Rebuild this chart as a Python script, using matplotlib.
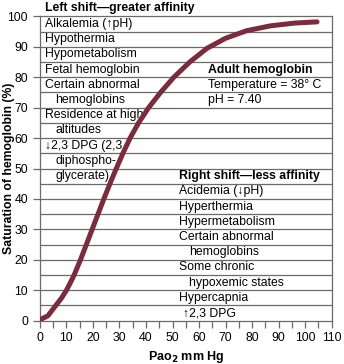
import matplotlib
matplotlib.use("Agg")
import matplotlib.pyplot as plt

plt.rcParams['font.family'] = ['Liberation Sans', 'DejaVu Sans']

#### curve ####
pao2 = [0, 3, 6.0, 8.2, 10.0, 11.5, 12.9, 15.3, 17.5, 19.7, 21.9, 24.1, 26.4, 28.8,
        31.3, 34.0, 37.2, 41.0, 45.5, 50.5, 56.5, 63.0, 70.0, 78.0, 87.0, 96.0, 104.5]
sat = [0.3, 1.6, 5, 7.5, 10, 12.5, 15, 20, 25, 30, 35, 40, 45, 50,
       55, 60, 65, 70, 75, 80, 85, 89.5, 92.8, 95.3, 96.9, 97.8, 98.2]

#### text rows ####
left_title = "Left shift\u2014greater affinity"
left_rows = ["Alkalemia (\u2191pH)", "Hypothermia", "Hypometabolism", "Fetal hemoglobin",
             "Certain abnormal", "  hemoglobins", "Residence at high", "  altitudes",
             "\u21932,3 DPG (2,3", "  diphospho-", "  glycerate)"]
right_title = "Right shift\u2014less affinity"
right_rows = ["Acidemia (\u2193pH)", "Hyperthermia", "Hypermetabolism", "Certain abnormal",
              "  hemoglobins", "Some chronic", "  hypoxemic states", "Hypercapnia",
              " \u21912,3 DPG"]
adult_rows = ["Temperature = 38\u00b0 C", "pH = 7.40"]

curve_col = '#7a2b3d'
line_col = '#6a6a6a'
fs = 8.8

fig = plt.figure(figsize=(3.44, 3.64), dpi=100)
ax = fig.add_axes([0.116, 0.119, 0.848, 0.836])

# horizontal rules every 5%
for yy in range(5, 100, 5):
    ax.axhline(yy, color=line_col, lw=0.9, zorder=1)

ax.plot(pao2, sat, color=curve_col, lw=3.6, solid_capstyle='round',
        solid_joinstyle='round', zorder=3)

# left shift column
ax.text(1.9, 102.8, left_title, fontsize=fs, fontweight='bold', va='center', clip_on=False)
for i, s in enumerate(left_rows):
    y = 97.5 - 5 * i
    x = 1.9
    if s.startswith("  "):
        x = 5.7
        s = s.strip()
    ax.text(x, y, s, fontsize=fs, va='center', zorder=2)

# adult hemoglobin box
ax.text(63.4, 82.5, "Adult hemoglobin", fontsize=fs, fontweight='bold', va='center')
for i, s in enumerate(adult_rows):
    ax.text(63.4, 77.5 - 5 * i, s, fontsize=fs, va='center')

# right shift column
ax.text(52.5, 47.5, right_title, fontsize=fs, fontweight='bold', va='center')
for i, s in enumerate(right_rows):
    y = 42.5 - 5 * i
    x = 52.5
    if s.startswith("  "):
        x = 56.3
        s = s.strip()
    elif s.startswith(" "):
        x = 54
        s = s.strip()
    ax.text(x, y, s, fontsize=fs, va='center')

ax.set_xlim(0, 110)
ax.set_ylim(0, 100)
ax.set_xticks(range(0, 111, 10))
ax.set_xticks(range(0, 111, 5), minor=True)
ax.set_yticks(range(0, 101, 10))
ax.tick_params(axis='both', labelsize=8.8, colors='black', direction='out')
ax.tick_params(axis='x', which='both', length=5, width=0.9, color=line_col)
ax.tick_params(axis='y', length=5, width=0.9, color=line_col)
for sp in ax.spines.values():
    sp.set_color(line_col)
    sp.set_linewidth(0.9)

ax.set_xlabel(r"Pao$_\mathbf{2}$ mm Hg", fontsize=9, fontweight='bold', labelpad=3)
ax.set_ylabel("Saturation of hemoglobin (%)", fontsize=8.8, fontweight='bold')
ax.yaxis.set_label_coords(-0.087, 0.5)

fig.savefig("out.png", dpi=100)
